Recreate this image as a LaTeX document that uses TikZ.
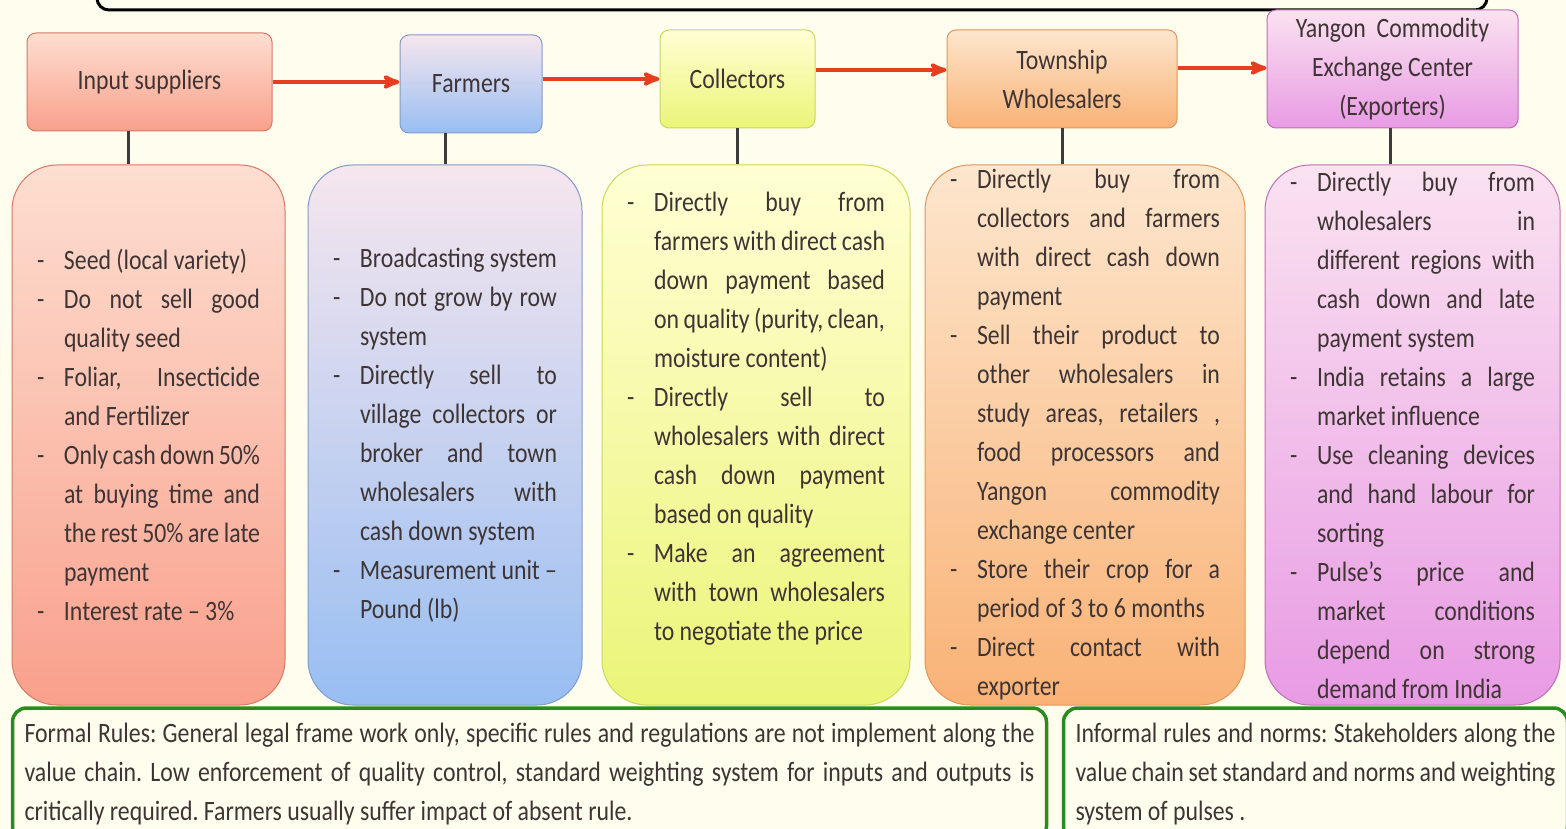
\documentclass[tikz,border=0pt]{standalone}
\usepackage{fontspec}
\setmainfont{Carlito}[FakeStretch=0.85]
\usepackage{tikz}
\usetikzlibrary{arrows,positioning}
\frenchspacing
\definecolor{paper}{RGB}{255,253,238}
\definecolor{ink}{RGB}{62,52,52}
\definecolor{flowred}{RGB}{232,62,32}
\definecolor{linkgray}{RGB}{60,60,60}
\definecolor{rulegreen}{RGB}{40,140,30}
% column colours
\definecolor{inpTop}{RGB}{253,222,208}
\definecolor{inpBot}{RGB}{249,160,140}
\definecolor{inpLine}{RGB}{215,120,100}
\definecolor{farmTop}{RGB}{246,230,238}
\definecolor{farmBot}{RGB}{152,190,242}
\definecolor{farmLine}{RGB}{130,155,200}
\definecolor{collTop}{RGB}{255,255,212}
\definecolor{collBot}{RGB}{234,245,120}
\definecolor{collLine}{RGB}{205,215,90}
\definecolor{townTop}{RGB}{253,230,205}
\definecolor{townBot}{RGB}{249,178,118}
\definecolor{townLine}{RGB}{225,150,90}
\definecolor{yangTop}{RGB}{250,226,240}
\definecolor{yangBot}{RGB}{232,155,228}
\definecolor{yangLine}{RGB}{190,110,180}
\newcommand\bodytext{\fontsize{28}{39}\selectfont\hyphenpenalty=10000\exhyphenpenalty=10000\tolerance=10000}
\newcommand\bitem[1]{\noindent\hangindent=27pt\hangafter=1\makebox[27pt][l]{-}#1\par}
\newcommand\nl{\linebreak\ignorespaces}

\begin{document}
\begin{tikzpicture}[x=1pt, y=-1pt, semithick, >=stealth',
    hdr/.style={rounded corners=9pt, line width=1pt, align=center, inner sep=0pt,
      font=\bodytext, text=ink, minimum height=98pt},
    detail/.style={rounded corners=45pt, line width=1pt, inner xsep=25pt, inner ysep=0pt,
      minimum height=540pt, align=justify, font=\bodytext, text=ink},
    rulebox/.style={rounded corners=14pt, draw=rulegreen, line width=3.5pt, fill=paper,
      inner xsep=12pt, inner ysep=0pt, minimum height=132pt, align=justify,
      font=\bodytext, text=ink},
    flow/.style={->, draw=flowred, line width=4pt},
    link/.style={draw=linkgray, line width=3pt}]
    \useasboundingbox (0,0) rectangle (1566,829);
    \fill[paper] (0,0) rectangle (1566,829);
    % Title frame
    \draw[line width=3pt, rounded corners=12pt] (97,-40) -- (97,10) -- (1487,10) -- (1487,-40);

    % Actors
    \node[hdr, top color=inpTop, bottom color=inpBot, draw=inpLine, minimum width=245pt]
      (inp) at (149.5,82) {Input suppliers};
    \node[hdr, top color=farmTop, bottom color=farmBot, draw=farmLine, minimum width=142pt]
      (farm) at (471,84) {Farmers};
    \node[hdr, top color=collTop, bottom color=collBot, draw=collLine, minimum width=155pt]
      (coll) at (737.5,79) {Collectors};
    \node[hdr, top color=townTop, bottom color=townBot, draw=townLine, minimum width=230pt]
      (town) at (1062,79) {Township\\Wholesalers};
    \node[hdr, top color=yangTop, bottom color=yangBot, draw=yangLine, minimum width=251pt,
      minimum height=118pt]
      (yang) at (1392.5,69) {Yangon\ \ Commodity\\Exchange Center\\(Exporters)};

    % Details
    \node[detail, top color=inpTop, bottom color=inpBot, draw=inpLine, text width=223pt]
      (inp-d) at (148.5,435) {%
      \bitem{Seed (local variety)}
      \bitem{Do not sell good\nl quality seed}
      \bitem{Foliar, Insecticide\nl and Fertilizer}
      \bitem{Only cash down 50\%\nl at buying time and\nl the rest 50\% are late\nl payment}
      \bitem{Interest rate -- 3\%}};
    \node[detail, top color=farmTop, bottom color=farmBot, draw=farmLine, text width=224pt]
      (farm-d) at (445,435) {%
      \bitem{Broadcasting system}
      \bitem{Do not grow by row\nl system}
      \bitem{Directly sell to\nl village collectors or\nl broker and town\nl wholesalers with\nl cash down system}
      \bitem{Measurement unit --\nl Pound (lb)}};
    \node[detail, top color=collTop, bottom color=collBot, draw=collLine, text width=258pt]
      (coll-d) at (756,435) {%
      \bitem{Directly buy from\nl farmers with direct cash\nl down payment based\nl on quality (purity, clean,\nl moisture content)}
      \bitem{Directly sell to\nl wholesalers with direct\nl cash down payment\nl based on quality}
      \bitem{Make an agreement\nl with town wholesalers\nl to negotiate the price}
      \nointerlineskip\vbox to 32pt{}};
    \node[detail, top color=townTop, bottom color=townBot, draw=townLine, text width=270pt]
      (town-d) at (1085,435) {%
      \bitem{Directly buy from\nl collectors and farmers\nl with direct cash down\nl payment}
      \bitem{Sell their product to\nl other wholesalers in\nl study areas, retailers ,\nl food processors and\nl Yangon commodity\nl exchange center}
      \bitem{Store their crop for a\nl period of 3 to 6 months}
      \bitem{Direct contact with\nl exporter}};
    \node[detail, top color=yangTop, bottom color=yangBot, draw=yangLine, text width=245pt]
      (yang-d) at (1412.5,435) {%
      \bitem{Directly buy from\nl wholesalers in\nl different regions with\nl cash down and late\nl payment system}
      \bitem{India retains a large\nl market influence}
      \bitem{Use cleaning devices\nl and hand labour for\nl sorting}
      \bitem{Pulse’s price and\nl market conditions\nl depend on strong\nl demand from India}};

    % Arrows
    \draw[flow] (inp.east) -- (inp.east -| farm.west);
    \draw[flow] (coll.west -| farm.east) -- (coll.west);
    \draw[flow] (coll.east |- 0,70) -- (town.west |- 0,70);
    \draw[flow] (town.east |- 0,68) -- (yang.west |- 0,68);
    % Links
    \foreach \n/\x in {inp/128, farm/445, coll/737, town/1062, yang/1390}
      \draw[link] (\x,0 |- \n.south) -- (\x,0 |- \n-d.north);

    % Rules
    \node[rulebox, text width=1010pt] (formal) at (529.5,774)
      {Formal Rules: General legal frame work only, specific rules and regulations are not implement along the\nl value chain. Low enforcement of quality control, standard weighting system for inputs and outputs is\nl critically required. Farmers usually suffer impact of absent rule.};
    \node[rulebox, text width=480pt] (informal) at (1315.5,774)
      {Informal rules and norms: Stakeholders along the\nl value chain set standard and norms and weighting\nl system of pulses .};
  \end{tikzpicture}
\end{document}
